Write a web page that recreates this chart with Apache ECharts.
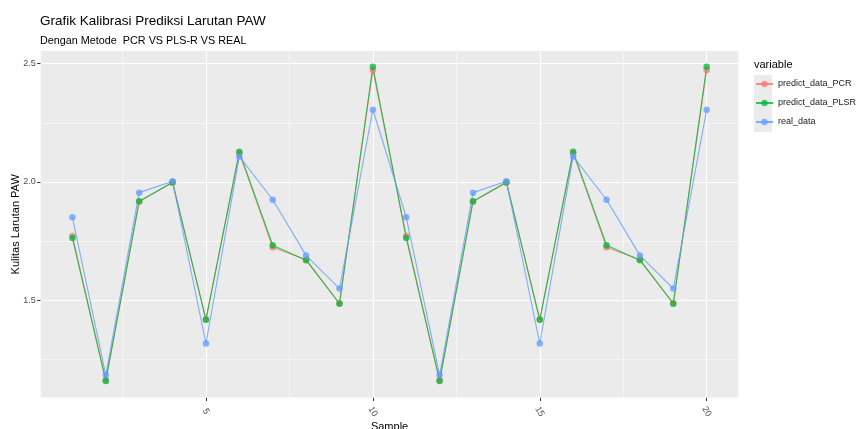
<!DOCTYPE html>
<html>
<head>
<meta charset="utf-8">
<script src="https://cdn.jsdelivr.net/npm/echarts@6/dist/echarts.min.js"></script>
<style>html,body{margin:0;padding:0;background:#fff}#c{width:856px;height:429px}</style>
</head>
<body>
<div id="c"></div>
<script>
var samples = [1,2,3,4,5,6,7,8,9,10,11,12,13,14,15,16,17,18,19,20];
var predictPCR = [1.772,1.163,1.917,1.997,1.420,2.122,1.724,1.672,1.488,2.473,1.772,1.163,1.917,1.997,1.420,2.122,1.724,1.672,1.488,2.473];
var predictPLSR = [1.763,1.160,1.919,1.999,1.418,2.128,1.733,1.670,1.486,2.487,1.763,1.160,1.919,1.999,1.418,2.128,1.733,1.670,1.486,2.487];
var realData = [1.851,1.185,1.955,2.003,1.318,2.108,1.925,1.690,1.550,2.305,1.851,1.185,1.955,2.003,1.318,2.108,1.925,1.690,1.550,2.305];
var seriesNames = ['predict_data_PCR','predict_data_PLSR','real_data'];
var xTicks = [5,10,15,20];
var xMinor = [2.5,7.5,12.5,17.5];
var yTicks = [1.5,2.0,2.5];
var yMinor = [1.25,1.75,2.25];

var colors = ['#F8766D','#00BA38','#619CFF'];
var font = 'Liberation Sans, Arial, sans-serif';

function pairs(ys){ return samples.map(function(x,i){ return [x, ys[i]]; }); }

var gridLines = [];
yMinor.forEach(function(v){ gridLines.push({yAxis: v, lineStyle:{width:0.5}}); });
xMinor.forEach(function(v){ gridLines.push({xAxis: v, lineStyle:{width:0.5}}); });
yTicks.forEach(function(v){ gridLines.push({yAxis: v, lineStyle:{width:1.1}}); });
xTicks.forEach(function(v){ gridLines.push({xAxis: v, lineStyle:{width:1.1}}); });

function dataSeries(name, ys, color){
  return {
    name: name, type: 'line', data: pairs(ys), z: 10,
    symbol: 'circle', symbolSize: 6.5, showSymbol: true,
    lineStyle: {color: color, width: 1.1, opacity: 0.8},
    itemStyle: {color: color, opacity: 0.75},
    emphasis: {disabled: true}
  };
}

var chart = echarts.init(document.getElementById('c'), null, {renderer:'canvas'});
chart.setOption({
  animation: false,
  backgroundColor: '#ffffff',
  title: {
    text: 'Grafik Kalibrasi Prediksi Larutan PAW',
    subtext: 'Dengan Metode  PCR VS PLS-R VS REAL',
    left: 40, top: 13, padding: 0, itemGap: 5,
    textStyle: {fontFamily: font, fontSize: 13.5, fontWeight: 'normal', color: '#000', lineHeight: 16},
    subtextStyle: {fontFamily: font, fontSize: 10.8, color: '#000', lineHeight: 14}
  },
  grid: {
    left: 40.7, right: 117.6, top: 51, bottom: 31.5,
    outerBoundsMode: 'none', containLabel: false,
    show: true, backgroundColor: '#EBEBEB', borderWidth: 0
  },
  legend: {
    data: seriesNames,
    orient: 'vertical', left: 755, top: 78,
    itemWidth: 17, itemHeight: 8, itemGap: 7, padding: 0,
    textStyle: {fontFamily: font, fontSize: 9, color: '#1a1a1a', lineHeight: 12}
  },
  graphic: [
    {type: 'rect', left: 754, top: 75, shape: {width: 18, height: 57}, style: {fill: '#EBEBEB'}, z: -1, silent: true},
    {type: 'text', left: 754, top: 59, style: {text: 'variable', font: '11px ' + font, fill: '#000'}}
  ],
  xAxis: {
    type: 'value', min: 0.05, max: 20.95,
    name: 'Sample', nameLocation: 'middle', nameGap: 23.5, nameMoveOverlap: false,
    nameTextStyle: {fontFamily: font, fontSize: 11, color: '#000'},
    axisLine: {show: false},
    axisTick: {show: true, length: 3.5, customValues: xTicks, lineStyle: {color: '#333333', width: 1}},
    axisLabel: {customValues: xTicks, rotate: -60, align: 'center', verticalAlign: 'middle', margin: 14,
      fontFamily: font, fontSize: 9, color: '#4D4D4D'},
    splitLine: {show: false}
  },
  yAxis: {
    type: 'value', min: 1.09, max: 2.553,
    name: 'Kulitas Larutan PAW', nameLocation: 'middle', nameGap: 19, nameRotate: 90, nameMoveOverlap: false,
    nameTextStyle: {fontFamily: font, fontSize: 11, color: '#000'},
    axisLine: {show: false},
    axisTick: {show: true, length: 3.5, customValues: yTicks, lineStyle: {color: '#333333', width: 1}},
    axisLabel: {customValues: yTicks, margin: 5, fontFamily: font, fontSize: 9, color: '#4D4D4D',
      formatter: function(v){ return v.toFixed(1); }},
    splitLine: {show: false}
  },
  series: [
    {
      name: 'grid', type: 'line', data: [], z: 1, silent: true,
      markLine: {silent: true, symbol: ['none','none'], label: {show: false}, animation: false,
        lineStyle: {color: '#ffffff', type: 'solid'}, emphasis: {disabled: true}, data: gridLines}
    },
    dataSeries(seriesNames[0], predictPCR, colors[0]),
    dataSeries(seriesNames[1], predictPLSR, colors[1]),
    dataSeries(seriesNames[2], realData, colors[2])
  ]
});
</script>
</body>
</html>
